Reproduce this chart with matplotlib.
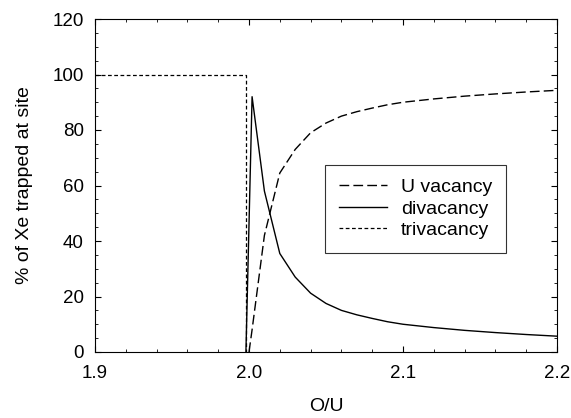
import matplotlib.pyplot as plt
from matplotlib.ticker import MultipleLocator

plt.rcParams['font.family'] = ['Liberation Sans', 'DejaVu Sans']

# Datos
xTri = [1.9, 1.998, 1.998]
yTri = [100, 100, 0]

xDi = [1.998, 2.002, 2.01, 2.02, 2.03, 2.04, 2.05, 2.06, 2.07, 2.08, 2.09, 2.1,
       2.12, 2.14, 2.16, 2.18, 2.2]
yDi = [0, 92, 58, 35.5, 27, 21.2, 17.5, 15, 13.4, 12.1, 10.9, 10,
       8.8, 7.8, 7.0, 6.3, 5.7]

xU = [2.0, 2.002, 2.01, 2.02, 2.03, 2.04, 2.05, 2.06, 2.07, 2.08, 2.09, 2.1,
      2.12, 2.14, 2.16, 2.18, 2.2]
yU = [0, 8, 42, 64.5, 73, 79, 82.5, 85, 86.6, 87.9, 89.1, 90,
      91.2, 92.2, 93.0, 93.7, 94.3]

fig = plt.figure(figsize=(5.71, 4.18), dpi=100)
ax = fig.add_axes([95/571, 1 - 352/418, 462/571, 333/418])

ax.plot(xU, yU, color='black', lw=1.0, linestyle=(0, (7, 3)), label='U vacancy')
ax.plot(xDi, yDi, color='black', lw=1.0, label='divacancy')
ax.plot(xTri, yTri, color='black', lw=0.9, linestyle=(0, (3, 2)), label='trivacancy')

ax.set_xlim(1.9, 2.2)
ax.set_ylim(0, 120)
ax.xaxis.set_major_locator(MultipleLocator(0.1))
ax.xaxis.set_minor_locator(MultipleLocator(0.02))
ax.yaxis.set_major_locator(MultipleLocator(20))
ax.yaxis.set_minor_locator(MultipleLocator(5))
ax.set_xticks([1.9, 2.0, 2.1, 2.2])
ax.set_xticklabels(['1.9', '2.0', '2.1', '2.2'])
ax.tick_params(which='both', direction='in', top=True, right=True, labelsize=13.5)
ax.tick_params(which='major', length=4)
ax.tick_params(which='minor', length=2)
ax.tick_params(axis='x', pad=9)
ax.tick_params(axis='y', pad=8)

ax.set_xlabel('O/U', fontsize=14, labelpad=12)
ax.set_ylabel('% of Xe trapped at site', fontsize=14, labelpad=14)

leg = ax.legend(loc='upper left', bbox_to_anchor=((325 - 95)/462, (352 - 165)/333),
                borderaxespad=0, fontsize=14, frameon=True, fancybox=False,
                edgecolor='black', handlelength=2.5, handletextpad=0.7,
                labelspacing=0.2, borderpad=0.7)
leg.get_frame().set_linewidth(0.8)

fig.savefig('out.png', dpi=100)
